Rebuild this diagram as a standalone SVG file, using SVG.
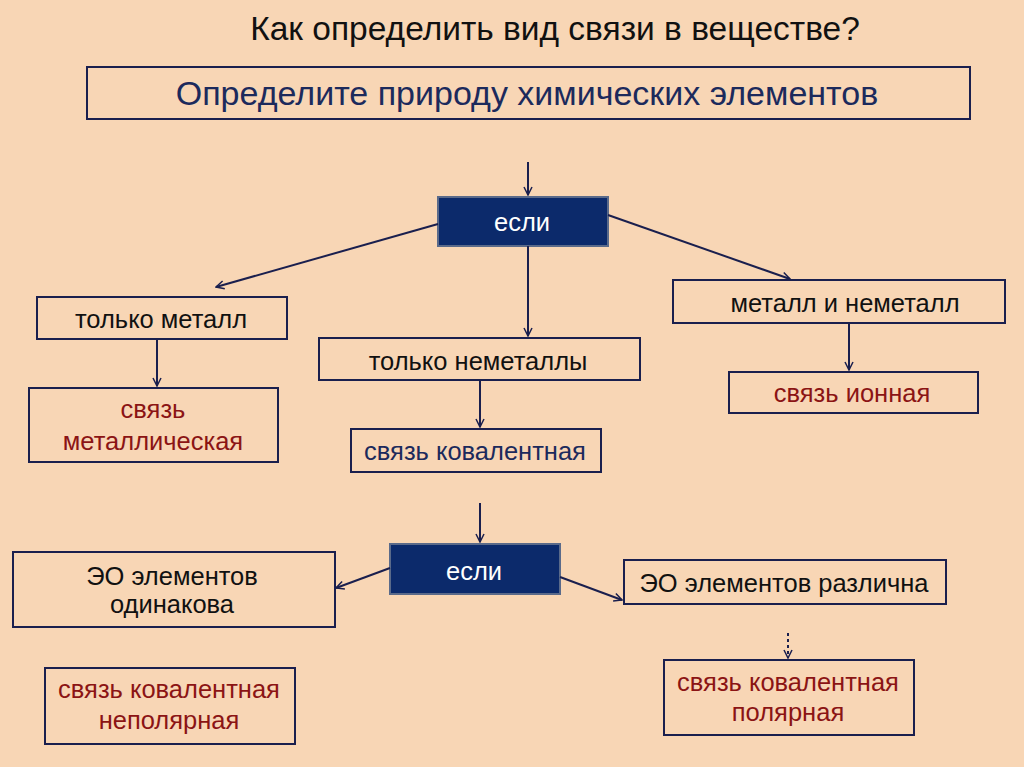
<svg xmlns="http://www.w3.org/2000/svg" width="1024" height="767" viewBox="0 0 1024 767">
<style>
.bx{fill:none;stroke:#1a1f4e;stroke-width:2}
.dk{fill:#0c2a6b;stroke:#5a6a8a;stroke-width:2}
.t{font-family:"Liberation Sans",Arial,sans-serif;font-size:25.5px;text-anchor:middle;fill:#111}
.r{fill:#8b1414}
.b{fill:#1c2a5c}
.w{fill:#ffffff}
.c{stroke:#1a1f4e;stroke-width:2;fill:none;marker-end:url(#ah)}
</style>
<defs>
<marker id="ah" viewBox="0 0 10 10" refX="9" refY="5" markerWidth="10" markerHeight="10" markerUnits="userSpaceOnUse" orient="auto">
<polyline points="1,1 9,5 1,9" fill="none" stroke="#1a1f4e" stroke-width="1.5"/>
</marker>
</defs>
<rect width="1024" height="767" fill="#f8d6b5"/>
<text x="555" y="40" class="t" style="font-size:33.5px">Как определить вид связи в веществе?</text>
<g id="n-header"><rect x="87" y="67" width="883" height="52" class="bx"/><text x="527" y="105" class="t b" style="font-size:34px">Определите природу химических элементов</text></g>
<g id="n-if1"><rect x="438" y="197" width="170" height="49" class="dk"/><text x="522" y="231" class="t w">если</text></g>
<g id="n-metal"><rect x="37" y="297" width="250" height="42" class="bx"/><text x="161" y="328" class="t">только металл</text></g>
<g id="n-metbond"><rect x="29" y="388" width="249" height="74" class="bx"/><text x="153" y="418" class="t r">связь</text><text x="153" y="450" class="t r">металлическая</text></g>
<g id="n-nonmetal"><rect x="319" y="338" width="321" height="42" class="bx"/><text x="478" y="370" class="t">только неметаллы</text></g>
<g id="n-cov"><rect x="351" y="429" width="250" height="43" class="bx"/><text x="475" y="460" class="t b">связь ковалентная</text></g>
<g id="n-mixed"><rect x="673" y="280" width="332" height="43" class="bx"/><text x="845" y="312" class="t">металл и неметалл</text></g>
<g id="n-ionic"><rect x="729" y="372" width="249" height="41" class="bx"/><text x="852" y="402" class="t r">связь ионная</text></g>
<g id="n-if2"><rect x="390" y="544" width="170" height="50" class="dk"/><text x="474" y="580" class="t w">если</text></g>
<g id="n-same"><rect x="13" y="552" width="322" height="75" class="bx"/><text x="172" y="585" class="t">ЭО элементов</text><text x="172" y="613" class="t">одинакова</text></g>
<g id="n-diff"><rect x="624" y="560" width="322" height="44" class="bx"/><text x="784" y="592" class="t">ЭО элементов различна</text></g>
<g id="n-nonpolar"><rect x="45" y="668" width="250" height="76" class="bx"/><text x="169" y="698" class="t r">связь ковалентная</text><text x="169" y="729" class="t r">неполярная</text></g>
<g id="n-polar"><rect x="664" y="660" width="250" height="75" class="bx"/><text x="788" y="691" class="t r">связь ковалентная</text><text x="788" y="721" class="t r">полярная</text></g>
<g id="connectors">
<line x1="528" y1="162" x2="528" y2="195" class="c"/>
<line x1="438" y1="224" x2="216" y2="287" class="c"/>
<line x1="608" y1="215" x2="790" y2="279" class="c"/>
<line x1="528" y1="246" x2="528" y2="336" class="c"/>
<line x1="157" y1="339" x2="157" y2="386" class="c"/>
<line x1="480" y1="380" x2="480" y2="427" class="c"/>
<line x1="849" y1="323" x2="849" y2="370" class="c"/>
<line x1="480" y1="503" x2="480" y2="542" class="c"/>
<line x1="390" y1="568" x2="336" y2="588" class="c"/>
<line x1="560" y1="577" x2="622" y2="600" class="c"/>
<line x1="788" y1="633" x2="788" y2="658" class="c" stroke-dasharray="3,3"/>
</g>
</svg>
